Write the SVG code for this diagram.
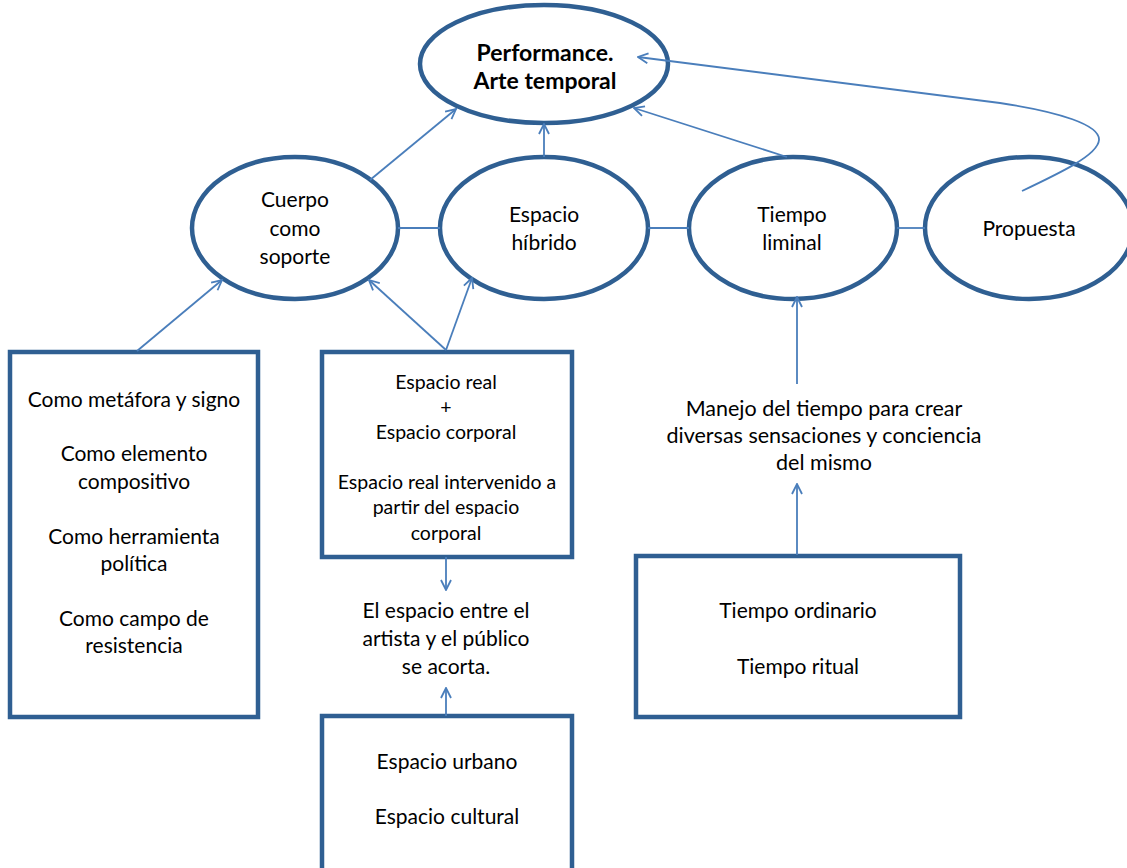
<svg xmlns="http://www.w3.org/2000/svg" width="1127" height="868" viewBox="0 0 1127 868">
  <style>
    .shape { fill: #ffffff; stroke: #2f5f92; stroke-width: 4.5; }
    .conn { fill: none; stroke: #4a7ebb; stroke-width: 1.8; }
    .t { font-family: Lato, "Open Sans", "Liberation Sans", sans-serif; fill: #000; text-anchor: middle; }
    .big { font-size: 21px; }
    .mid { font-size: 19.5px; }
    .title { font-size: 23px; font-weight: bold; }
  </style>
  <defs>
    <marker id="arr" viewBox="0 0 12 12" refX="11" refY="6" markerWidth="12" markerHeight="12" markerUnits="userSpaceOnUse" orient="auto">
      <path d="M1,1 L11,6 L1,11" fill="none" stroke="#4a7ebb" stroke-width="1.8"/>
    </marker>
  </defs>
  <rect width="1127" height="868" fill="#ffffff"/>

  <g id="performance">
    <ellipse class="shape" cx="544" cy="64" rx="124" ry="59"/>
    <text class="t title" x="545" y="61">Performance.</text>
    <text class="t title" x="545" y="89">Arte temporal</text>
  </g>

  <g id="cuerpo">
    <ellipse class="shape" cx="295" cy="228" rx="103" ry="71"/>
    <text class="t big" x="295" y="207">Cuerpo</text>
    <text class="t big" x="295" y="236">como</text>
    <text class="t big" x="295" y="264">soporte</text>
  </g>

  <g id="espacio">
    <ellipse class="shape" cx="544" cy="228" rx="104" ry="71"/>
    <text class="t big" x="544" y="222">Espacio</text>
    <text class="t big" x="544" y="250">híbrido</text>
  </g>

  <g id="tiempo">
    <ellipse class="shape" cx="793" cy="228" rx="104" ry="71"/>
    <text class="t big" x="792" y="222">Tiempo</text>
    <text class="t big" x="792" y="250">liminal</text>
  </g>

  <g id="propuesta">
    <ellipse class="shape" cx="1029" cy="228" rx="104" ry="71"/>
    <text class="t big" x="1029" y="236">Propuesta</text>
  </g>

  <g id="cuerpo-usos">
    <rect class="shape" x="10" y="352" width="248" height="365"/>
    <text class="t big" x="134" y="407">Como metáfora y signo</text>
    <text class="t big" x="134" y="461">Como elemento</text>
    <text class="t big" x="134" y="489">compositivo</text>
    <text class="t big" x="134" y="544">Como herramienta</text>
    <text class="t big" x="134" y="571">política</text>
    <text class="t big" x="134" y="626">Como campo de</text>
    <text class="t big" x="134" y="653">resistencia</text>
  </g>

  <g id="espacio-real">
    <rect class="shape" x="322" y="352" width="250" height="205"/>
    <text class="t mid" x="446" y="389">Espacio real</text>
    <text class="t mid" x="446" y="414">+</text>
    <text class="t mid" x="446" y="439">Espacio corporal</text>
    <text class="t mid" x="447" y="489">Espacio real intervenido a</text>
    <text class="t mid" x="446" y="514">partir del espacio</text>
    <text class="t mid" x="446" y="540">corporal</text>
  </g>

  <g id="espacio-acorta">
    <text class="t big" x="446" y="618">El espacio entre el</text>
    <text class="t big" x="446" y="646">artista y el público</text>
    <text class="t big" x="446" y="674">se acorta.</text>
  </g>

  <g id="espacio-tipos">
    <rect class="shape" x="322" y="716" width="250" height="170"/>
    <text class="t big" x="447" y="769">Espacio urbano</text>
    <text class="t big" x="447" y="824">Espacio cultural</text>
  </g>

  <g id="manejo-tiempo">
    <text class="t big" x="824" y="416" style="font-size:21.5px">Manejo del tiempo para crear</text>
    <text class="t big" x="824" y="443" style="font-size:21.5px">diversas sensaciones y conciencia</text>
    <text class="t big" x="824" y="470" style="font-size:21.5px">del mismo</text>
  </g>

  <g id="tiempo-tipos">
    <rect class="shape" x="636" y="556" width="324" height="161"/>
    <text class="t big" x="798" y="618">Tiempo ordinario</text>
    <text class="t big" x="798" y="674">Tiempo ritual</text>
  </g>

  <!-- connectors, drawn over the shapes -->
  <g id="connectors">
    <line class="conn" x1="398" y1="228" x2="440" y2="228"/>
    <line class="conn" x1="648" y1="228" x2="689" y2="228"/>
    <line class="conn" x1="897" y1="228" x2="925" y2="228"/>
    <line class="conn" x1="370" y1="180" x2="456" y2="109" marker-end="url(#arr)"/>
    <line class="conn" x1="544" y1="157" x2="544" y2="124" marker-end="url(#arr)"/>
    <line class="conn" x1="787" y1="157" x2="634" y2="108" marker-end="url(#arr)"/>
    <path class="conn" d="M1022,191 C1060,173 1098,155 1099,140 C1100,125 1060,112 1000,103 L638,57" marker-end="url(#arr)"/>
    <line class="conn" x1="137" y1="351" x2="222" y2="280" marker-end="url(#arr)"/>
    <line class="conn" x1="446" y1="350" x2="369" y2="280" marker-end="url(#arr)"/>
    <line class="conn" x1="446" y1="350" x2="472" y2="278" marker-end="url(#arr)"/>
    <line class="conn" x1="446" y1="557" x2="446" y2="590" marker-end="url(#arr)"/>
    <line class="conn" x1="446" y1="716" x2="446" y2="688" marker-end="url(#arr)"/>
    <line class="conn" x1="797" y1="384" x2="797" y2="297" marker-end="url(#arr)"/>
    <line class="conn" x1="797" y1="555" x2="797" y2="484" marker-end="url(#arr)"/>
  </g>
</svg>
